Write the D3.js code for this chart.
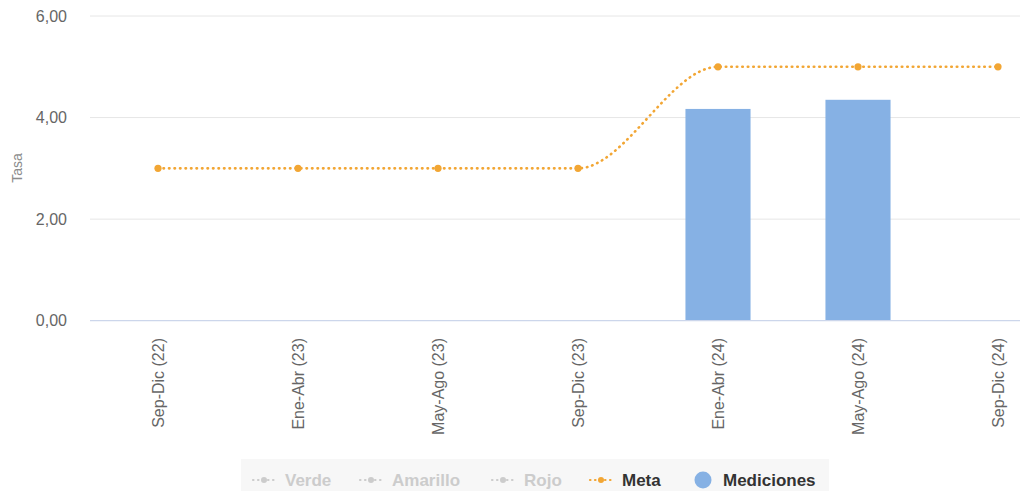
<!DOCTYPE html>
<html>
<head>
<meta charset="utf-8">
<script src="https://cdn.jsdelivr.net/npm/d3@7"></script>
<style>
  html, body { margin: 0; padding: 0; background: #fff; }
  svg { display: block; font-family: "Liberation Sans", Arial, Helvetica, sans-serif; }
</style>
</head>
<body>
<svg id="chart" width="1022" height="491"></svg>
<script>
// Periods (four-month terms)
const categories = ["Sep-Dic (22)", "Ene-Abr (23)", "May-Ago (23)", "Sep-Dic (23)", "Ene-Abr (24)", "May-Ago (24)", "Sep-Dic (24)"];
// Target rate per period
const metaValues = [3, 3, 3, 3, 5, 5, 5];
// Measured rate per period (null = no measurement)
const medicionValues = [null, null, null, null, 4.17, 4.35, null];
// Y axis ticks
const yTicks = [0, 2, 4, 6];
// Legend entries
const legendItems = [
  { name: "Verde", type: "line", active: false },
  { name: "Amarillo", type: "line", active: false },
  { name: "Rojo", type: "line", active: false },
  { name: "Meta", type: "line", active: true },
  { name: "Mediciones", type: "bar", active: true }
];

const svg = d3.select("#chart");
const colorMeta = "#f2a634";
const colorBar = "#86b1e4";

const plotLeft = 88, plotRight = 1068, gridRight = 1020;
const plotTop = 16, plotBottom = 320.7;

const x = d3.scaleBand().domain(categories).range([plotLeft, plotRight]).paddingInner(0.535).paddingOuter(0.2675);
const xc = d => x(d) + x.bandwidth() / 2;
const y = d3.scaleLinear().domain([0, 6]).range([plotBottom, plotTop]);

// Grid lines
svg.append("g").selectAll("line").data(yTicks.filter(t => t !== 0)).join("line")
  .attr("x1", 90).attr("x2", gridRight)
  .attr("y1", d => y(d)).attr("y2", d => y(d))
  .attr("stroke", "#e6e6e6").attr("stroke-width", 1);

// Y axis labels
const fmt = v => d3.format(".2f")(v).replace(".", ",");
svg.append("g").selectAll("text").data(yTicks).join("text")
  .attr("x", 67).attr("y", d => y(d) + 5.5)
  .attr("text-anchor", "end")
  .attr("font-size", 16).attr("fill", "#666")
  .text(fmt);

// Y axis title
svg.append("text")
  .attr("transform", `translate(22,168) rotate(-90)`)
  .attr("text-anchor", "middle")
  .attr("font-size", 14).attr("fill", "#8c8c8c")
  .text("Tasa");

// Bars
const barData = categories.map((c, i) => ({ c, v: medicionValues[i] })).filter(d => d.v != null);
svg.append("g").selectAll("rect").data(barData).join("rect")
  .attr("x", d => x(d.c)).attr("width", x.bandwidth())
  .attr("y", d => y(d.v)).attr("height", d => y(0) - y(d.v))
  .attr("fill", colorBar);

// X axis line
svg.append("line")
  .attr("x1", 90).attr("x2", gridRight)
  .attr("y1", y(0)).attr("y2", y(0))
  .attr("stroke", "#ccd6eb").attr("stroke-width", 1.2);

// X axis labels (rotated)
svg.append("g").selectAll("text").data(categories).join("text")
  .attr("transform", d => `translate(${xc(d) + 5.5},338) rotate(-90)`)
  .attr("text-anchor", "end")
  .attr("font-size", 16).attr("fill", "#666")
  .text(d => d);

// Target line (smoothed, dotted)
const metaData = categories.map((c, i) => ({ c, v: metaValues[i] }));
const line = d3.line().x(d => xc(d.c)).y(d => y(d.v)).curve(d3.curveMonotoneX);
svg.append("path").datum(metaData)
  .attr("d", line)
  .attr("fill", "none").attr("stroke", colorMeta)
  .attr("stroke-width", 2.6)
  .attr("stroke-linecap", "round")
  .attr("stroke-dasharray", "0.5,5");
svg.append("g").selectAll("circle").data(metaData).join("circle")
  .attr("cx", d => xc(d.c)).attr("cy", d => y(d.v))
  .attr("r", 3.6).attr("fill", colorMeta);

// Legend
const legend = svg.append("g");
legend.append("rect")
  .attr("x", 241).attr("y", 459).attr("width", 588).attr("height", 32)
  .attr("fill", "#f7f7f7");
const legendX = [253, 360, 492, 590, 695];
legendItems.forEach((item, i) => {
  const lx = legendX[i];
  const ly = 480;
  const col = item.active ? (item.type === "bar" ? colorBar : colorMeta) : "#cccccc";
  const g = legend.append("g");
  let textX;
  if (item.type === "line") {
    g.append("line")
      .attr("x1", lx).attr("x2", lx + 22).attr("y1", ly).attr("y2", ly)
      .attr("stroke", col).attr("stroke-width", 2.2)
      .attr("stroke-linecap", "round").attr("stroke-dasharray", "0.5,4.5");
    g.append("circle").attr("cx", lx + 11).attr("cy", ly).attr("r", 3).attr("fill", col);
    textX = lx + 32;
  } else {
    g.append("circle").attr("cx", lx + 8).attr("cy", ly).attr("r", 8.5).attr("fill", col);
    textX = lx + 28;
  }
  g.append("text")
    .attr("x", textX).attr("y", ly + 6)
    .attr("font-size", 17).attr("font-weight", "bold")
    .attr("fill", item.active ? "#333" : "#cccccc")
    .text(item.name);
});
</script>
</body>
</html>
